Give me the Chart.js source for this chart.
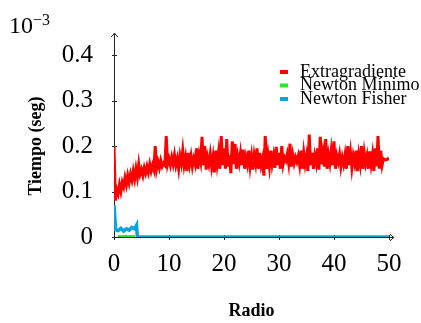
<!DOCTYPE html>
<html>
<head>
<meta charset="utf-8">
<script src="https://cdn.jsdelivr.net/npm/chart.js@4.4.1/dist/chart.umd.min.js"></script>
<style>
  body { margin: 0; background: #fff; }
  #wrap { width: 421px; height: 323px; }
</style>
</head>
<body>
<div id="wrap"><canvas id="grafico"></canvas></div>
<script>
// Datos (tiempo en unidades de 10^-3 s)
const pasoRadio = 0.25;
const tiempoExtragradiente = [
  0.200, 0.080, 0.105, 0.095, 0.115, 0.100, 0.120, 0.110,
  0.130, 0.115, 0.135, 0.120, 0.138, 0.125, 0.145, 0.128,
  0.150, 0.132, 0.160, 0.138, 0.148, 0.135, 0.152, 0.140,
  0.155, 0.142, 0.160, 0.145, 0.158, 0.148, 0.200, 0.150,
  0.165, 0.152, 0.168, 0.155, 0.162, 0.158, 0.222, 0.160,
  0.172, 0.158, 0.175, 0.160, 0.180, 0.158, 0.172, 0.150,
  0.178, 0.162, 0.190, 0.158, 0.175, 0.145, 0.185, 0.160,
  0.178, 0.155, 0.172, 0.160, 0.195, 0.150, 0.180, 0.165,
  0.220, 0.158, 0.200, 0.148, 0.175, 0.160, 0.182, 0.155,
  0.176, 0.142, 0.190, 0.160, 0.185, 0.150, 0.222, 0.158,
  0.195, 0.150, 0.215, 0.155, 0.180, 0.140, 0.210, 0.160,
  0.205, 0.150, 0.178, 0.162, 0.185, 0.158, 0.192, 0.150,
  0.175, 0.160, 0.190, 0.155, 0.178, 0.148, 0.180, 0.162,
  0.195, 0.150, 0.185, 0.158, 0.172, 0.135, 0.222, 0.150,
  0.180, 0.155, 0.190, 0.160, 0.178, 0.152, 0.198, 0.158,
  0.185, 0.150, 0.200, 0.160, 0.175, 0.168, 0.182, 0.162,
  0.205, 0.155, 0.180, 0.162, 0.175, 0.165, 0.178, 0.158,
  0.190, 0.150, 0.185, 0.160, 0.178, 0.145, 0.225, 0.158,
  0.185, 0.150, 0.178, 0.162, 0.195, 0.148, 0.220, 0.160,
  0.185, 0.155, 0.215, 0.150, 0.180, 0.162, 0.190, 0.158,
  0.210, 0.150, 0.178, 0.165, 0.182, 0.155, 0.175, 0.160,
  0.180, 0.150, 0.200, 0.158, 0.185, 0.152, 0.178, 0.162,
  0.190, 0.145, 0.180, 0.160, 0.200, 0.150, 0.185, 0.162,
  0.178, 0.150, 0.188, 0.160, 0.182, 0.145, 0.195, 0.155,
  0.222, 0.150, 0.190, 0.158, 0.172, 0.170, 0.170, 0.172,
  0.170
];
const radioMinimo = [0.7, 3.8];
const tiempoMinimo = [0.0, 0.0];
const radioFisher = [0, 0.3, 0.75, 1.25, 1.75, 2.25, 2.75, 3.25, 3.75, 4.1, 4.25, 50];
const tiempoFisher = [0.07, 0.016, 0.014, 0.019, 0.013, 0.018, 0.015, 0.021, 0.018, 0.026, 0.0, 0.0];
const ticksX = [0, 10, 20, 30, 40, 50];
const ticksY = [0, 0.1, 0.2, 0.3, 0.4];

const serif = "'Times New Roman', 'Liberation Serif', Times, serif";

const puntos = (xs, ys) => xs.map((x, i) => ({ x: x, y: ys[i] }));

// ejes con flechas, marcas, exponente y leyenda
const ejesPgf = {
  id: 'ejesPgf',
  beforeDatasetsDraw(chart) {
    const { ctx, chartArea: a, scales } = chart;
    ctx.save();
    ctx.strokeStyle = '#222';
    ctx.lineWidth = 1;
    const x0 = Math.round(a.left) + 0.5, y0 = Math.round(a.bottom) + 0.5;
    ctx.beginPath();
    ctx.moveTo(x0, y0); ctx.lineTo(a.right + 4, y0);
    ctx.moveTo(x0, y0); ctx.lineTo(x0, a.top - 21);
    ticksX.forEach(v => {
      const px = Math.round(scales.x.getPixelForValue(v)) + 0.5;
      ctx.moveTo(px, y0 - 2.5); ctx.lineTo(px, y0 + 2.5);
    });
    ticksY.forEach(v => {
      const py = Math.round(scales.y.getPixelForValue(v)) + 0.5;
      ctx.moveTo(x0 - 2.5, py); ctx.lineTo(x0 + 2.5, py);
    });
    ctx.stroke();
    // puntas
    ctx.beginPath();
    ctx.moveTo(a.right + 1, y0 - 3.5); ctx.quadraticCurveTo(a.right + 3, y0 - 1, a.right + 5, y0);
    ctx.quadraticCurveTo(a.right + 3, y0 + 1, a.right + 1, y0 + 3.5);
    ctx.moveTo(x0 - 3.5, a.top - 18); ctx.quadraticCurveTo(x0 - 1, a.top - 20, x0, a.top - 22);
    ctx.quadraticCurveTo(x0 + 1, a.top - 20, x0 + 3.5, a.top - 18);
    ctx.stroke();
    ctx.restore();
  },
  afterDraw(chart) {
    const { ctx } = chart;
    ctx.save();
    ctx.fillStyle = '#000';
    ctx.textBaseline = 'alphabetic';
    ctx.textAlign = 'left';
    ctx.font = '24px ' + serif;
    ctx.fillText('10', 9, 33);
    ctx.font = '16px ' + serif;
    ctx.fillText('\u22123', 33, 25);
    // leyenda
    ctx.font = '18px ' + serif;
    chart.data.datasets.forEach((ds, i) => {
      const cy = 72 + i * 13.5;
      ctx.fillStyle = ds.borderColor;
      ctx.fillRect(280, cy - 2, 8, 4);
      ctx.fillStyle = '#000';
      ctx.fillText(ds.label, 300, cy + 4.5);
    });
    ctx.restore();
  }
};

new Chart(document.getElementById('grafico'), {
  type: 'line',
  data: {
    datasets: [
      {
        label: 'Extragradiente',
        data: tiempoExtragradiente.map((t, i) => ({ x: i * pasoRadio, y: t })),
        borderColor: '#ff0000',
        borderWidth: 3,
        pointRadius: 0,
        tension: 0
      },
      {
        label: 'Newton M\u00ednimo',
        data: puntos(radioMinimo, tiempoMinimo),
        borderColor: '#22ee22',
        borderWidth: 4,
        pointRadius: 0
      },
      {
        label: 'Newton Fisher',
        data: puntos(radioFisher, tiempoFisher),
        borderColor: '#0aa3dd',
        borderWidth: 3.5,
        pointRadius: 0,
        tension: 0
      }
    ]
  },
  options: {
    responsive: true,
    maintainAspectRatio: false,
    animation: false,
    layout: { padding: { left: 0, top: 55, right: 32, bottom: 0 } },
    plugins: {
      legend: { display: false },
      tooltip: { enabled: false }
    },
    scales: {
      x: {
        type: 'linear',
        min: 0,
        max: 50,
        afterFit: (s) => { s.height = 86; },
        afterBuildTicks: (s) => { s.ticks = ticksX.map(v => ({ value: v })); },
        grid: { display: false },
        border: { display: false },
        ticks: {
          color: '#000',
          padding: 4,
          font: { family: serif, size: 25 }
        },
        title: {
          display: true,
          text: 'Radio',
          color: '#000',
          padding: { top: 0, bottom: 1 },
          font: { family: serif, size: 18, weight: 'bold' }
        }
      },
      y: {
        min: 0,
        max: 0.4,
        afterFit: (s) => { s.width = 114; },
        afterBuildTicks: (s) => { s.ticks = ticksY.map(v => ({ value: v })); },
        grid: { display: false },
        border: { display: false },
        ticks: {
          color: '#000',
          padding: 13,
          font: { family: serif, size: 25 },
          callback: (v) => v === 0 ? '0' : v.toFixed(1)
        },
        title: {
          display: true,
          text: 'Tiempo (seg)',
          color: '#000',
          padding: { top: 26, bottom: 0 },
          font: { family: serif, size: 18, weight: 'bold' }
        }
      }
    }
  },
  plugins: [ejesPgf]
});
</script>
</body>
</html>
